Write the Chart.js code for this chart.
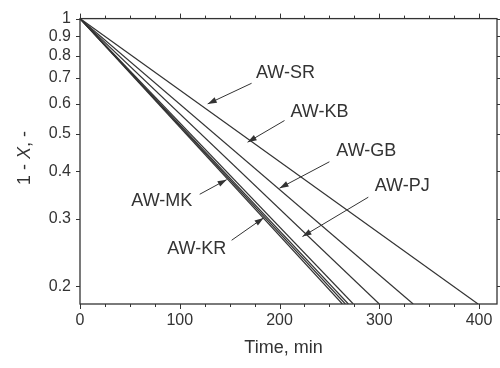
<!DOCTYPE html>
<html>
<head>
<meta charset="utf-8">
<script src="https://cdn.jsdelivr.net/npm/chart.js@4"></script>
<style>
html,body{margin:0;padding:0;background:#fff;}
#wrap{width:500px;height:368px;}
</style>
</head>
<body>
<div id="wrap"><canvas id="c" width="500" height="368"></canvas></div>
<script>
// ---- data ----
const seriesNames = ['AW-SR', 'AW-KB', 'AW-GB', 'AW-PJ', 'AW-KR', 'AW-X', 'AW-MK'];
const startTime = [0, 0, 0, 0, 0, 0, 0];          // min
const endTime   = [399, 334, 300, 274, 269, 266, 263]; // min, where each line leaves the plot
const startValue = [1, 1, 1, 1, 1, 1, 1];         // 1 - X at start
const endValue   = [0.18, 0.18, 0.18, 0.18, 0.18, 0.18, 0.18];
const xTicks = [0, 100, 200, 300, 400];
const xMinorTicks = [25, 50, 75, 125, 150, 175, 225, 250, 275, 325, 350, 375];
const yTicks = [1, 0.9, 0.8, 0.7, 0.6, 0.5, 0.4, 0.3, 0.2];
const yTickLabels = ['1', '0.9', '0.8', '0.7', '0.6', '0.5', '0.4', '0.3', '0.2'];

// label annotations (data coordinates): text centre, arrow tail, arrow tip
const notes = [
  {text: 'AW-SR', tx: 206, ty: 0.723, ax: 172, ay: 0.678, bx: 128, by: 0.599},
  {text: 'AW-KB', tx: 240, ty: 0.569, ax: 205, ay: 0.542, bx: 168, by: 0.476},
  {text: 'AW-GB', tx: 287, ty: 0.452, ax: 250, ay: 0.423, bx: 200, by: 0.361},
  {text: 'AW-PJ', tx: 323, ty: 0.365, ax: 289, ay: 0.342, bx: 223, by: 0.270},
  {text: 'AW-MK', tx: 82,  ty: 0.334, ax: 120, ay: 0.348, bx: 147, by: 0.380},
  {text: 'AW-KR', tx: 117, ty: 0.251, ax: 152, ay: 0.264, bx: 184, by: 0.302}
];

const INK = '#333';
const FONT = '"Liberation Sans", Arial, sans-serif';

const datasets = seriesNames.map((n, i) => ({
  label: n,
  data: [{x: startTime[i], y: startValue[i]}, {x: endTime[i], y: endValue[i]}],
  showLine: true,
  borderColor: INK,
  borderWidth: 1.2,
  pointRadius: 0,
  fill: false
}));

const decor = {
  id: 'decor',
  afterDatasetsDraw(chart) {
    const ctx = chart.ctx, a = chart.chartArea;
    const xs = chart.scales.x, ys = chart.scales.y;
    ctx.save();
    ctx.strokeStyle = INK;
    ctx.lineWidth = 1.3;
    ctx.strokeRect(a.left, a.top, a.right - a.left, a.bottom - a.top);
    ctx.lineWidth = 1;
    ctx.beginPath();
    xTicks.forEach(v => {
      const p = Math.round(xs.getPixelForValue(v)) + 0.5;
      ctx.moveTo(p, a.bottom); ctx.lineTo(p, a.bottom + 5);
      ctx.moveTo(p, a.top); ctx.lineTo(p, a.top - 5);
    });
    xMinorTicks.forEach(v => {
      const p = Math.round(xs.getPixelForValue(v)) + 0.5;
      ctx.moveTo(p, a.bottom); ctx.lineTo(p, a.bottom + 3);
      ctx.moveTo(p, a.top); ctx.lineTo(p, a.top - 3);
    });
    yTicks.forEach(v => {
      const p = Math.round(ys.getPixelForValue(v)) + 0.5;
      ctx.moveTo(a.left, p); ctx.lineTo(a.left - 4, p);
      ctx.moveTo(a.right, p); ctx.lineTo(a.right + 3, p);
    });
    ctx.stroke();

    // annotations
    ctx.fillStyle = INK;
    ctx.font = '18px ' + FONT;
    ctx.textAlign = 'center';
    ctx.textBaseline = 'middle';
    notes.forEach(n => {
      ctx.fillText(n.text, xs.getPixelForValue(n.tx), ys.getPixelForValue(n.ty));
      const x1 = xs.getPixelForValue(n.ax), y1 = ys.getPixelForValue(n.ay);
      const x2 = xs.getPixelForValue(n.bx), y2 = ys.getPixelForValue(n.by);
      ctx.beginPath(); ctx.moveTo(x1, y1); ctx.lineTo(x2, y2); ctx.lineWidth = 1; ctx.stroke();
      const ang = Math.atan2(y2 - y1, x2 - x1), L = 9, W = 3;
      ctx.beginPath();
      ctx.moveTo(x2, y2);
      ctx.lineTo(x2 - L * Math.cos(ang) + W * Math.sin(ang), y2 - L * Math.sin(ang) - W * Math.cos(ang));
      ctx.lineTo(x2 - L * Math.cos(ang) - W * Math.sin(ang), y2 - L * Math.sin(ang) + W * Math.cos(ang));
      ctx.closePath(); ctx.fill();
    });

    // axis titles
    ctx.textBaseline = 'middle';
    ctx.font = '18px ' + FONT;
    ctx.textAlign = 'center';
    ctx.fillText('Time, min', (a.left + a.right) / 2 - 5, 348);
    ctx.translate(25, 158);
    ctx.rotate(-Math.PI / 2);
    const parts = [['1 - ', '18px ' + FONT], ['X', 'italic 18px ' + FONT], [', -', '18px ' + FONT]];
    let total = 0;
    parts.forEach(p => { ctx.font = p[1]; total += ctx.measureText(p[0]).width; });
    let x = -total / 2;
    ctx.textAlign = 'left';
    parts.forEach(p => { ctx.font = p[1]; ctx.fillText(p[0], x, 0); x += ctx.measureText(p[0]).width; });
    ctx.restore();
  }
};

new Chart(document.getElementById('c'), {
  type: 'scatter',
  data: {datasets},
  options: {
    responsive: false,
    animation: false,
    layout: {padding: {top: 14, right: 3, left: 0, bottom: 0}},
    plugins: {legend: {display: false}, tooltip: {enabled: false}},
    scales: {
      x: {
        type: 'linear', min: 0, max: 418,
        grid: {display: false, drawTicks: false}, border: {display: false},
        afterBuildTicks: s => { s.ticks = xTicks.map(v => ({value: v})); },
        afterFit: s => { s.height = 64; },
        ticks: {color: INK, font: {family: FONT, size: 16}, padding: 7, maxRotation: 0,
                callback: v => String(v)}
      },
      y: {
        type: 'logarithmic', min: 0.18, max: 1,
        grid: {display: false, drawTicks: false}, border: {display: false},
        afterBuildTicks: s => { s.ticks = yTicks.map(v => ({value: v})); },
        afterFit: s => { s.width = 80; },
        ticks: {color: INK, font: {family: FONT, size: 16}, padding: 9,
                callback: v => yTickLabels[yTicks.indexOf(v)] ?? ''}
      }
    }
  },
  plugins: [decor]
});
</script>
</body>
</html>
